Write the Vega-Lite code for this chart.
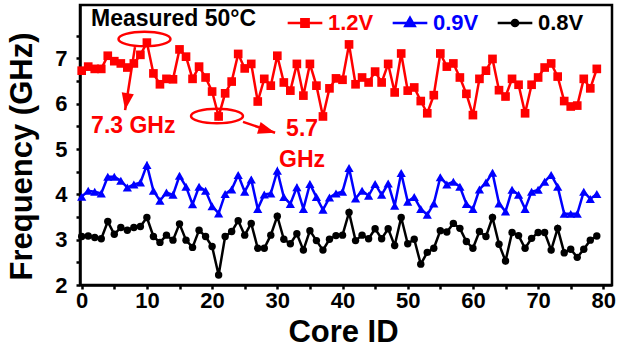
{
  "$schema": "https://vega.github.io/schema/vega-lite/v6.json",
  "width": 532,
  "height": 280,
  "autosize": {"type": "none"},
  "padding": {"left": 80, "top": 5, "right": 9, "bottom": 63},
  "background": "white",
  "config": {"view": {"stroke": "black", "strokeWidth": 2.5}, "font": "Liberation Sans"},
  "datasets": {
    "freq": [
      {"c":0,"s":"1.2V","f":6.73},{"c":1,"s":"1.2V","f":6.82},{"c":2,"s":"1.2V","f":6.77},{"c":3,"s":"1.2V","f":6.77},{"c":4,"s":"1.2V","f":7.06},{"c":5,"s":"1.2V","f":6.94},{"c":6,"s":"1.2V","f":6.89},{"c":7,"s":"1.2V","f":6.80},{"c":8,"s":"1.2V","f":6.89},{"c":9,"s":"1.2V","f":7.08},
      {"c":10,"s":"1.2V","f":7.35},{"c":11,"s":"1.2V","f":6.67},{"c":12,"s":"1.2V","f":6.43},{"c":13,"s":"1.2V","f":6.55},{"c":14,"s":"1.2V","f":6.54},{"c":15,"s":"1.2V","f":7.20},{"c":16,"s":"1.2V","f":7.04},{"c":17,"s":"1.2V","f":6.55},{"c":18,"s":"1.2V","f":6.82},{"c":19,"s":"1.2V","f":6.58},
      {"c":20,"s":"1.2V","f":6.27},{"c":21,"s":"1.2V","f":5.72},{"c":22,"s":"1.2V","f":6.23},{"c":23,"s":"1.2V","f":6.49},{"c":24,"s":"1.2V","f":7.10},{"c":25,"s":"1.2V","f":6.78},{"c":26,"s":"1.2V","f":6.88},{"c":27,"s":"1.2V","f":6.05},{"c":28,"s":"1.2V","f":6.55},{"c":29,"s":"1.2V","f":6.40},
      {"c":30,"s":"1.2V","f":7.06},{"c":31,"s":"1.2V","f":6.47},{"c":32,"s":"1.2V","f":6.29},{"c":33,"s":"1.2V","f":6.88},{"c":34,"s":"1.2V","f":6.18},{"c":35,"s":"1.2V","f":6.88},{"c":36,"s":"1.2V","f":6.40},{"c":37,"s":"1.2V","f":5.72},{"c":38,"s":"1.2V","f":6.34},{"c":39,"s":"1.2V","f":6.56},
      {"c":40,"s":"1.2V","f":6.53},{"c":41,"s":"1.2V","f":7.31},{"c":42,"s":"1.2V","f":6.43},{"c":43,"s":"1.2V","f":6.58},{"c":44,"s":"1.2V","f":6.47},{"c":45,"s":"1.2V","f":6.71},{"c":46,"s":"1.2V","f":6.47},{"c":47,"s":"1.2V","f":6.88},{"c":48,"s":"1.2V","f":6.25},{"c":49,"s":"1.2V","f":7.11},
      {"c":50,"s":"1.2V","f":6.29},{"c":51,"s":"1.2V","f":6.36},{"c":52,"s":"1.2V","f":6.06},{"c":53,"s":"1.2V","f":5.79},{"c":54,"s":"1.2V","f":6.19},{"c":55,"s":"1.2V","f":7.11},{"c":56,"s":"1.2V","f":6.82},{"c":57,"s":"1.2V","f":6.89},{"c":58,"s":"1.2V","f":6.58},{"c":59,"s":"1.2V","f":6.22},
      {"c":60,"s":"1.2V","f":5.75},{"c":61,"s":"1.2V","f":6.55},{"c":62,"s":"1.2V","f":6.73},{"c":63,"s":"1.2V","f":6.99},{"c":64,"s":"1.2V","f":6.30},{"c":65,"s":"1.2V","f":6.16},{"c":66,"s":"1.2V","f":6.55},{"c":67,"s":"1.2V","f":6.42},{"c":68,"s":"1.2V","f":5.79},{"c":69,"s":"1.2V","f":6.42},
      {"c":70,"s":"1.2V","f":6.58},{"c":71,"s":"1.2V","f":6.80},{"c":72,"s":"1.2V","f":6.89},{"c":73,"s":"1.2V","f":6.60},{"c":74,"s":"1.2V","f":6.06},{"c":75,"s":"1.2V","f":5.94},{"c":76,"s":"1.2V","f":5.96},{"c":77,"s":"1.2V","f":6.55},{"c":78,"s":"1.2V","f":6.34},{"c":79,"s":"1.2V","f":6.77},
      {"c":0,"s":"0.9V","f":3.95},{"c":1,"s":"0.9V","f":4.08},{"c":2,"s":"0.9V","f":4.06},{"c":3,"s":"0.9V","f":4.02},{"c":4,"s":"0.9V","f":4.39},{"c":5,"s":"0.9V","f":4.39},{"c":6,"s":"0.9V","f":4.30},{"c":7,"s":"0.9V","f":4.15},{"c":8,"s":"0.9V","f":4.22},{"c":9,"s":"0.9V","f":4.26},
      {"c":10,"s":"0.9V","f":4.65},{"c":11,"s":"0.9V","f":4.08},{"c":12,"s":"0.9V","f":3.86},{"c":13,"s":"0.9V","f":4.04},{"c":14,"s":"0.9V","f":3.99},{"c":15,"s":"0.9V","f":4.41},{"c":16,"s":"0.9V","f":4.17},{"c":17,"s":"0.9V","f":3.78},{"c":18,"s":"0.9V","f":4.17},{"c":19,"s":"0.9V","f":4.08},
      {"c":20,"s":"0.9V","f":3.74},{"c":21,"s":"0.9V","f":3.58},{"c":22,"s":"0.9V","f":4.01},{"c":23,"s":"0.9V","f":4.11},{"c":24,"s":"0.9V","f":4.43},{"c":25,"s":"0.9V","f":4.06},{"c":26,"s":"0.9V","f":4.33},{"c":27,"s":"0.9V","f":3.68},{"c":28,"s":"0.9V","f":4.00},{"c":29,"s":"0.9V","f":4.02},
      {"c":30,"s":"0.9V","f":4.52},{"c":31,"s":"0.9V","f":3.94},{"c":32,"s":"0.9V","f":3.79},{"c":33,"s":"0.9V","f":4.16},{"c":34,"s":"0.9V","f":3.68},{"c":35,"s":"0.9V","f":4.23},{"c":36,"s":"0.9V","f":3.94},{"c":37,"s":"0.9V","f":3.66},{"c":38,"s":"0.9V","f":3.93},{"c":39,"s":"0.9V","f":4.02},
      {"c":40,"s":"0.9V","f":4.06},{"c":41,"s":"0.9V","f":4.58},{"c":42,"s":"0.9V","f":3.91},{"c":43,"s":"0.9V","f":4.08},{"c":44,"s":"0.9V","f":3.97},{"c":45,"s":"0.9V","f":4.23},{"c":46,"s":"0.9V","f":3.99},{"c":47,"s":"0.9V","f":4.24},{"c":48,"s":"0.9V","f":3.75},{"c":49,"s":"0.9V","f":4.47},
      {"c":50,"s":"0.9V","f":3.84},{"c":51,"s":"0.9V","f":3.94},{"c":52,"s":"0.9V","f":3.68},{"c":53,"s":"0.9V","f":3.55},{"c":54,"s":"0.9V","f":3.80},{"c":55,"s":"0.9V","f":4.38},{"c":56,"s":"0.9V","f":4.22},{"c":57,"s":"0.9V","f":4.28},{"c":58,"s":"0.9V","f":4.17},{"c":59,"s":"0.9V","f":3.79},
      {"c":60,"s":"0.9V","f":3.68},{"c":61,"s":"0.9V","f":4.11},{"c":62,"s":"0.9V","f":4.26},{"c":63,"s":"0.9V","f":4.48},{"c":64,"s":"0.9V","f":3.80},{"c":65,"s":"0.9V","f":3.62},{"c":66,"s":"0.9V","f":4.10},{"c":67,"s":"0.9V","f":3.99},{"c":68,"s":"0.9V","f":3.68},{"c":69,"s":"0.9V","f":4.06},
      {"c":70,"s":"0.9V","f":4.10},{"c":71,"s":"0.9V","f":4.28},{"c":72,"s":"0.9V","f":4.43},{"c":73,"s":"0.9V","f":4.17},{"c":74,"s":"0.9V","f":3.57},{"c":75,"s":"0.9V","f":3.57},{"c":76,"s":"0.9V","f":3.57},{"c":77,"s":"0.9V","f":4.06},{"c":78,"s":"0.9V","f":3.90},{"c":79,"s":"0.9V","f":4.01},
      {"c":0,"s":"0.8V","f":3.07},{"c":1,"s":"0.8V","f":3.08},{"c":2,"s":"0.8V","f":3.05},{"c":3,"s":"0.8V","f":3.02},{"c":4,"s":"0.8V","f":3.40},{"c":5,"s":"0.8V","f":3.12},{"c":6,"s":"0.8V","f":3.27},{"c":7,"s":"0.8V","f":3.21},{"c":8,"s":"0.8V","f":3.27},{"c":9,"s":"0.8V","f":3.29},
      {"c":10,"s":"0.8V","f":3.49},{"c":11,"s":"0.8V","f":3.07},{"c":12,"s":"0.8V","f":2.94},{"c":13,"s":"0.8V","f":3.10},{"c":14,"s":"0.8V","f":2.99},{"c":15,"s":"0.8V","f":3.35},{"c":16,"s":"0.8V","f":2.99},{"c":17,"s":"0.8V","f":2.83},{"c":18,"s":"0.8V","f":3.21},{"c":19,"s":"0.8V","f":3.07},
      {"c":20,"s":"0.8V","f":2.85},{"c":21,"s":"0.8V","f":2.22},{"c":22,"s":"0.8V","f":3.07},{"c":23,"s":"0.8V","f":3.18},{"c":24,"s":"0.8V","f":3.42},{"c":25,"s":"0.8V","f":3.10},{"c":26,"s":"0.8V","f":3.36},{"c":27,"s":"0.8V","f":2.81},{"c":28,"s":"0.8V","f":2.81},{"c":29,"s":"0.8V","f":3.10},
      {"c":30,"s":"0.8V","f":3.52},{"c":31,"s":"0.8V","f":3.01},{"c":32,"s":"0.8V","f":2.91},{"c":33,"s":"0.8V","f":3.13},{"c":34,"s":"0.8V","f":2.77},{"c":35,"s":"0.8V","f":3.20},{"c":36,"s":"0.8V","f":2.98},{"c":37,"s":"0.8V","f":2.77},{"c":38,"s":"0.8V","f":3.01},{"c":39,"s":"0.8V","f":3.09},
      {"c":40,"s":"0.8V","f":3.10},{"c":41,"s":"0.8V","f":3.60},{"c":42,"s":"0.8V","f":2.98},{"c":43,"s":"0.8V","f":3.10},{"c":44,"s":"0.8V","f":3.02},{"c":45,"s":"0.8V","f":3.24},{"c":46,"s":"0.8V","f":3.02},{"c":47,"s":"0.8V","f":3.24},{"c":48,"s":"0.8V","f":2.87},{"c":49,"s":"0.8V","f":3.49},
      {"c":50,"s":"0.8V","f":2.91},{"c":51,"s":"0.8V","f":3.01},{"c":52,"s":"0.8V","f":2.46},{"c":53,"s":"0.8V","f":2.72},{"c":54,"s":"0.8V","f":2.81},{"c":55,"s":"0.8V","f":3.20},{"c":56,"s":"0.8V","f":3.17},{"c":57,"s":"0.8V","f":3.36},{"c":58,"s":"0.8V","f":3.25},{"c":59,"s":"0.8V","f":2.96},
      {"c":60,"s":"0.8V","f":2.81},{"c":61,"s":"0.8V","f":3.18},{"c":62,"s":"0.8V","f":3.07},{"c":63,"s":"0.8V","f":3.49},{"c":64,"s":"0.8V","f":2.90},{"c":65,"s":"0.8V","f":2.53},{"c":66,"s":"0.8V","f":3.16},{"c":67,"s":"0.8V","f":3.09},{"c":68,"s":"0.8V","f":2.81},{"c":69,"s":"0.8V","f":3.03},
      {"c":70,"s":"0.8V","f":3.16},{"c":71,"s":"0.8V","f":3.16},{"c":72,"s":"0.8V","f":2.77},{"c":73,"s":"0.8V","f":3.25},{"c":74,"s":"0.8V","f":2.71},{"c":75,"s":"0.8V","f":2.79},{"c":76,"s":"0.8V","f":2.61},{"c":77,"s":"0.8V","f":2.79},{"c":78,"s":"0.8V","f":2.99},{"c":79,"s":"0.8V","f":3.08}
    ],
    "ellipses": [{"c":9.63,"f":7.43},{"c":20.75,"f":5.73}],
    "arrows": [{"c":8.17,"f":7.25,"c2":6.66,"f2":5.86},{"c":24.74,"f":5.60,"c2":29.66,"f2":5.36}],
    "head1": [{"c":6.66,"f":5.86}],
    "head2": [{"c":29.66,"f":5.36}],
    "notes": [{"c":7.91,"f":5.50,"t":"7.3 GHz"},{"c":33.8,"f":5.44,"t":"5.7"},{"c":33.8,"f":4.75,"t":"GHz"}]
  },
  "encoding": {
    "x": {
      "field": "c", "type": "quantitative",
      "scale": {"domain": [-0.26, 81.33], "nice": false, "zero": false},
      "axis": {
        "title": "Core ID",
        "values": [0,5,10,15,20,25,30,35,40,45,50,55,60,65,70,75,80],
        "labelExpr": "datum.value % 10 === 0 ? format(datum.value, 'd') : ''",
        "grid": false, "domainColor": "black", "domainWidth": 2.5,
        "tickColor": "black", "tickWidth": 2.5, "tickSize": 4,
        "labelFont": "Liberation Sans", "labelFontSize": 22, "labelFontWeight": "bold", "labelColor": "black",
        "labelPadding": 1, "labelFlush": false, "labelOverlap": false,
        "titleFont": "Liberation Sans", "titleFontSize": 31, "titleFontWeight": "bold", "titleColor": "black",
        "titleX": 263, "titleY": 56, "titleAlign": "center", "titleBaseline": "alphabetic"
      }
    },
    "y": {
      "field": "f", "type": "quantitative",
      "scale": {"domain": [2, 8.18], "nice": false, "zero": false},
      "axis": {
        "title": "Frequency (GHz)",
        "values": [2,2.5,3,3.5,4,4.5,5,5.5,6,6.5,7,7.5],
        "labelExpr": "datum.value % 1 === 0 ? format(datum.value, 'd') : ''",
        "grid": false, "domainColor": "black", "domainWidth": 2.5,
        "tickColor": "black", "tickWidth": 2.5, "tickSize": 4,
        "labelFont": "Liberation Sans", "labelFontSize": 22, "labelFontWeight": "bold", "labelColor": "black",
        "labelPadding": 9, "labelOverlap": false, "labelFlush": false,
        "titleFont": "Liberation Sans", "titleFontSize": 31, "titleFontWeight": "bold", "titleColor": "black",
        "titleAngle": -90, "titleX": -58, "titleY": 151, "titleAlign": "center", "titleBaseline": "middle"
      }
    }
  },
  "layer": [
    {
      "data": {"name": "freq"},
      "encoding": {
        "color": {
          "field": "s", "type": "nominal",
          "scale": {"domain": ["1.2V", "0.9V", "0.8V"], "range": ["#ff0000", "#0000ff", "#000000"]},
          "legend": {
            "orient": "none", "legendX": 11, "legendY": -1, "direction": "horizontal", "columns": 3,
            "title": "Measured 50°C", "titleOrient": "left", "titlePadding": 29,
            "titleFont": "Liberation Sans", "titleFontSize": 23, "titleFontWeight": "bold", "titleColor": "black",
            "titleBaseline": "middle", "titleAnchor": "middle",
            "labelFont": "Liberation Sans", "labelFontSize": 22, "labelFontWeight": "bold", "labelOffset": 4,
            "symbolSize": 1200, "symbolStrokeWidth": 2.5, "columnPadding": 13, "padding": 0,
            "encode": {
              "symbols": {"update": {
                "shape": {"signal": "datum.value === '1.2V' ? 'M-1,0H1M-0.21,-0.21H0.21V0.21H-0.21Z' : datum.value === '0.9V' ? 'M-1,0H1M0,-0.3L0.27,0.17L-0.27,0.17Z' : 'M-1,0H1M0.18,0A0.18,0.18 0 1,1 -0.18,0A0.18,0.18 0 1,1 0.18,0Z'"},
                "size": {"value": 1200},
                "fill": {"signal": "datum.value === '1.2V' ? '#ff0000' : datum.value === '0.9V' ? '#0000ff' : '#000000'"},
                "stroke": {"signal": "datum.value === '1.2V' ? '#ff0000' : datum.value === '0.9V' ? '#0000ff' : '#000000'"},
                "strokeWidth": {"value": 2.5},
                "opacity": {"value": 1}
              }},
              "labels": {"update": {
                "fill": {"signal": "datum.value === '1.2V' ? '#ff0000' : datum.value === '0.9V' ? '#0000ff' : '#000000'"}
              }}
            }
          }
        }
      },
      "layer": [
        {"mark": {"type": "line", "strokeWidth": 2.5}},
        {
          "transform": [{"filter": "datum.s === '1.2V'"}],
          "mark": {"type": "point", "filled": true, "opacity": 1, "shape": "square", "size": 75}
        },
        {
          "transform": [{"filter": "datum.s === '0.9V'"}],
          "mark": {"type": "point", "filled": true, "opacity": 1, "shape": "triangle-up", "size": 85}
        },
        {
          "transform": [{"filter": "datum.s === '0.8V'"}],
          "mark": {"type": "point", "filled": true, "opacity": 1, "shape": "circle", "size": 55}
        }
      ]
    },
    {
      "data": {"name": "ellipses"},
      "mark": {"type": "point", "filled": false, "stroke": "#ff0000", "strokeWidth": 2.5, "opacity": 1, "size": 2704, "shape": "M-1,0A1,0.28 0 1,1 1,0A1,0.28 0 1,1 -1,0Z"}
    },
    {
      "data": {"name": "arrows"},
      "mark": {"type": "rule", "color": "#ff0000", "strokeWidth": 2.5},
      "encoding": {"x2": {"field": "c2"}, "y2": {"field": "f2"}}
    },
    {
      "data": {"name": "head1"},
      "mark": {"type": "point", "filled": true, "color": "#ff0000", "opacity": 1, "size": 1156, "angle": 189, "shape": "M0,0L0.36,1L-0.36,1Z"}
    },
    {
      "data": {"name": "head2"},
      "mark": {"type": "point", "filled": true, "color": "#ff0000", "opacity": 1, "size": 1156, "angle": 107, "shape": "M0,0L0.36,1L-0.36,1Z"}
    },
    {
      "data": {"name": "notes"},
      "mark": {"type": "text", "color": "#ff0000", "font": "Liberation Sans", "fontSize": 23, "fontWeight": "bold", "align": "center", "baseline": "middle"},
      "encoding": {"text": {"field": "t"}}
    }
  ]
}
